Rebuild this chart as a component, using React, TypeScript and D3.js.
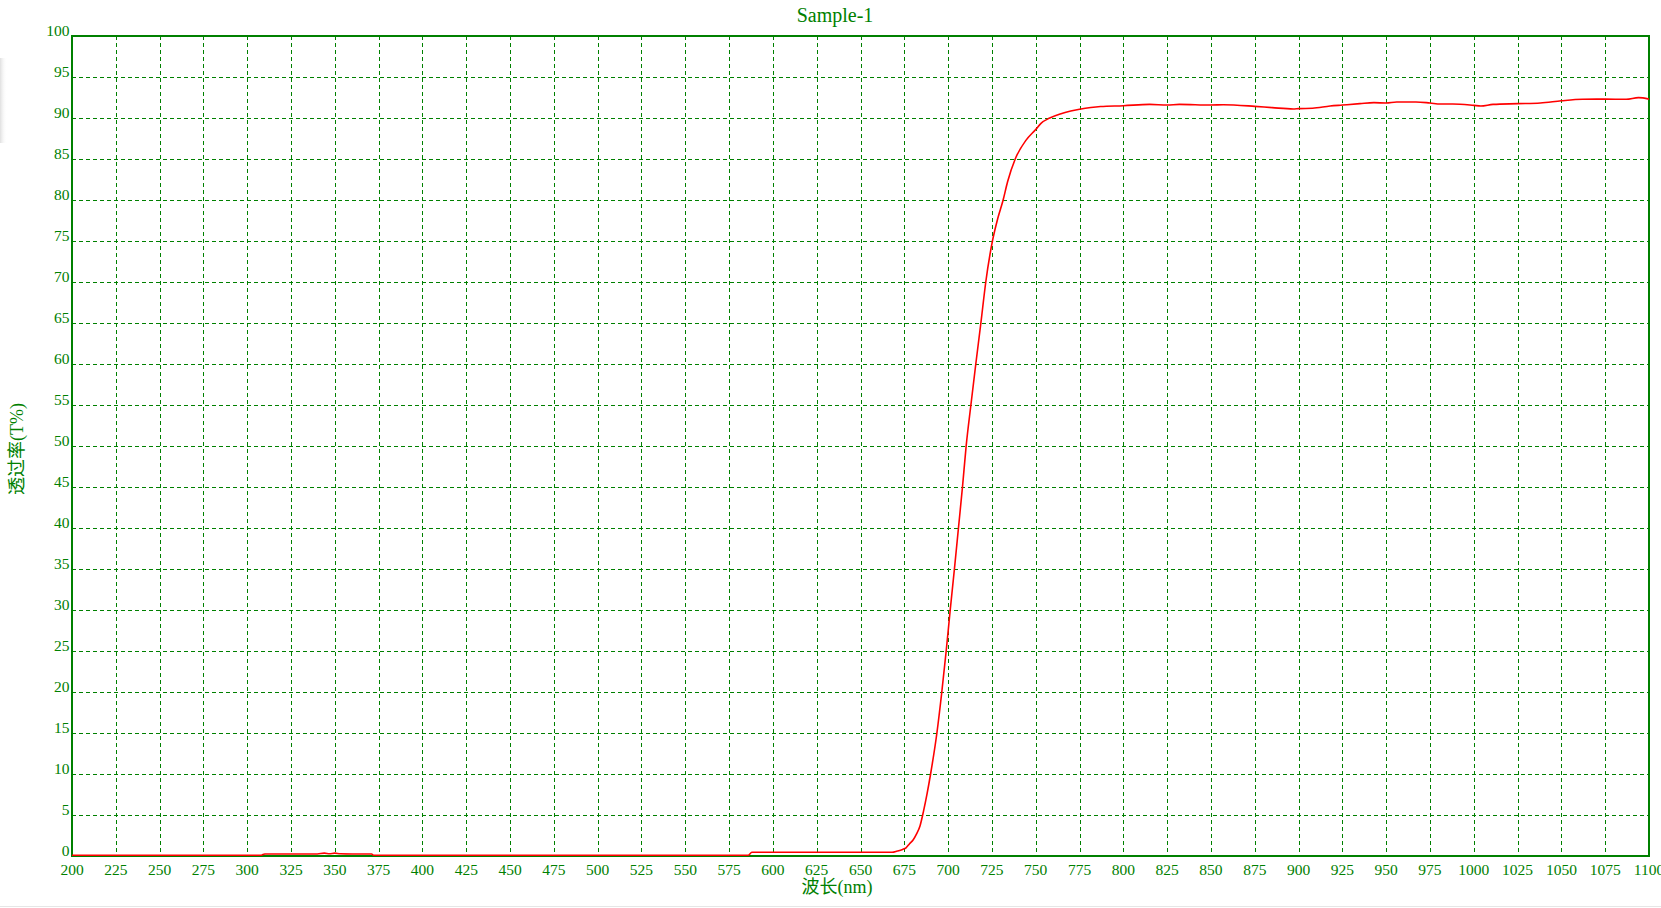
import React from "react";
import * as d3 from "d3";

const chartTitle = "Sample-1";
const xAxisLabel = "波长(nm)";
const yAxisLabel = "透过率(T%)";

const xTickValues = [200, 225, 250, 275, 300, 325, 350, 375, 400, 425, 450, 475, 500, 525, 550, 575, 600, 625, 650, 675, 700, 725, 750, 775, 800, 825, 850, 875, 900, 925, 950, 975, 1000, 1025, 1050, 1075, 1100];
const yTickValues = [0, 5, 10, 15, 20, 25, 30, 35, 40, 45, 50, 55, 60, 65, 70, 75, 80, 85, 90, 95, 100];

const wavelengths = [
  200, 250, 300, 308, 310, 340, 344, 347, 350, 353, 360, 371, 372, 450, 500, 586,
  588, 620, 660, 668, 671, 674, 676, 678, 680, 682, 684, 686, 688, 690, 693.6,
  696.4, 698.9, 701.2, 703.6, 705.9, 708.2, 710.3, 713, 715.8, 718.7, 721.5,
  725.3, 728.4, 731.4, 733.9, 738.3, 744.5, 750, 753, 758, 764, 770, 775,
  787, 800, 815, 825, 832, 850, 857, 875, 885, 897, 900, 908, 918, 925, 935,
  943, 950, 956, 967, 975, 981, 988, 1000, 1004, 1011, 1025, 1038, 1050, 1062,
  1075, 1087, 1094, 1100,
];
const transmittance = [
  0.1, 0.1, 0.1, 0.1, 0.25, 0.25, 0.35, 0.28, 0.35, 0.27, 0.25, 0.25, 0.1, 0.1, 0.1, 0.1,
  0.45, 0.45, 0.45, 0.45, 0.6, 0.8, 1.0, 1.5, 1.95, 2.7, 3.7, 5.5, 7.6, 10, 15,
  20, 25, 30, 35, 40, 45, 50, 55, 60, 65, 70,
  75, 77.8, 80, 82.2, 85, 87.3, 88.6, 89.35, 90, 90.5, 90.85, 91.06,
  91.4, 91.5, 91.66, 91.58, 91.66, 91.58, 91.62, 91.42, 91.26, 91.1, 91.14, 91.18, 91.46, 91.58, 91.75,
  91.87, 91.83, 91.95, 91.95, 91.83, 91.71, 91.71, 91.54, 91.46, 91.66, 91.75, 91.83, 92.1, 92.28,
  92.3, 92.28, 92.48, 92.3,
];

const W = 1661;
const H = 908;
const GREEN = "#008000";
const FONT = "'Liberation Serif', 'Noto Sans CJK SC', serif";

export default function App() {
  const left = 72;
  const right = 1649;
  const top = 36;
  const bottom = 856;
  const x = d3.scaleLinear().domain([200, 1100]).range([left, right]);
  const y = d3.scaleLinear().domain([0, 100]).range([bottom, top]);

  const points = wavelengths.map((w, i) => [w, transmittance[i]] as [number, number]);
  const line = d3
    .line<[number, number]>()
    .x((d) => x(d[0]))
    .y((d) => y(d[1]))
    .curve(d3.curveMonotoneX);

  return (
    <svg
      width={W}
      height={H}
      style={{ position: "absolute", left: 0, top: 0, background: "#fff" }}
      xmlns="http://www.w3.org/2000/svg"
    >
      <defs>
        <linearGradient id="shadow" x1="0" x2="1" y1="0" y2="0">
          <stop offset="0" stopColor="#d8d8d8" stopOpacity="0.8" />
          <stop offset="1" stopColor="#ffffff" stopOpacity="0" />
        </linearGradient>
      </defs>
      <rect x={0} y={0} width={W} height={H} fill="#fff" />
      <rect x={0} y={58} width={7} height={85} fill="url(#shadow)" />
      <line x1={0} x2={W} y1={906.5} y2={906.5} stroke="#e6e6e6" strokeWidth={1} />

      {/* grid */}
      <g shapeRendering="crispEdges">
        {xTickValues.slice(1, -1).map((t) => (
          <line
            key={"gx" + t}
            x1={Math.round(x(t)) + 0.5}
            x2={Math.round(x(t)) + 0.5}
            y1={top}
            y2={bottom}
            stroke={GREEN}
            strokeWidth={1}
            strokeDasharray="4,3"
          />
        ))}
        {yTickValues.slice(1, -1).map((t) => (
          <line
            key={"gy" + t}
            x1={left}
            x2={right}
            y1={Math.round(y(t)) + 0.5}
            y2={Math.round(y(t)) + 0.5}
            stroke={GREEN}
            strokeWidth={1}
            strokeDasharray="4,3"
          />
        ))}
      </g>

      {/* frame */}
      <rect
        x={left}
        y={top}
        width={right - left}
        height={bottom - top}
        fill="none"
        stroke={GREEN}
        strokeWidth={2}
        shapeRendering="crispEdges"
      />

      {/* curve */}
      <path d={line(points) || ""} fill="none" stroke="#ff0000" strokeWidth={1.6} />

      {/* y tick labels */}
      {yTickValues.map((t) => (
        <text
          key={"ty" + t}
          x={69.5}
          y={y(t) - 0.5}
          textAnchor="end"
          fontFamily={FONT}
          fontSize={15.5}
          fill={GREEN}
        >
          {t}
        </text>
      ))}

      {/* x tick labels */}
      {xTickValues.map((t) => (
        <text
          key={"tx" + t}
          x={x(t)}
          y={875}
          textAnchor="middle"
          fontFamily={FONT}
          fontSize={15.5}
          fill={GREEN}
        >
          {t}
        </text>
      ))}

      <text x={835} y={22} textAnchor="middle" fontFamily={FONT} fontSize={20} fill={GREEN}>
        {chartTitle}
      </text>
      <text x={837} y={893} textAnchor="middle" fontFamily={FONT} fontSize={18} fill={GREEN}>
        {xAxisLabel}
      </text>
      <text
        transform="translate(23,449) rotate(-90)"
        textAnchor="middle"
        fontFamily={FONT}
        fontSize={18}
        fill={GREEN}
      >
        {yAxisLabel}
      </text>
    </svg>
  );
}
